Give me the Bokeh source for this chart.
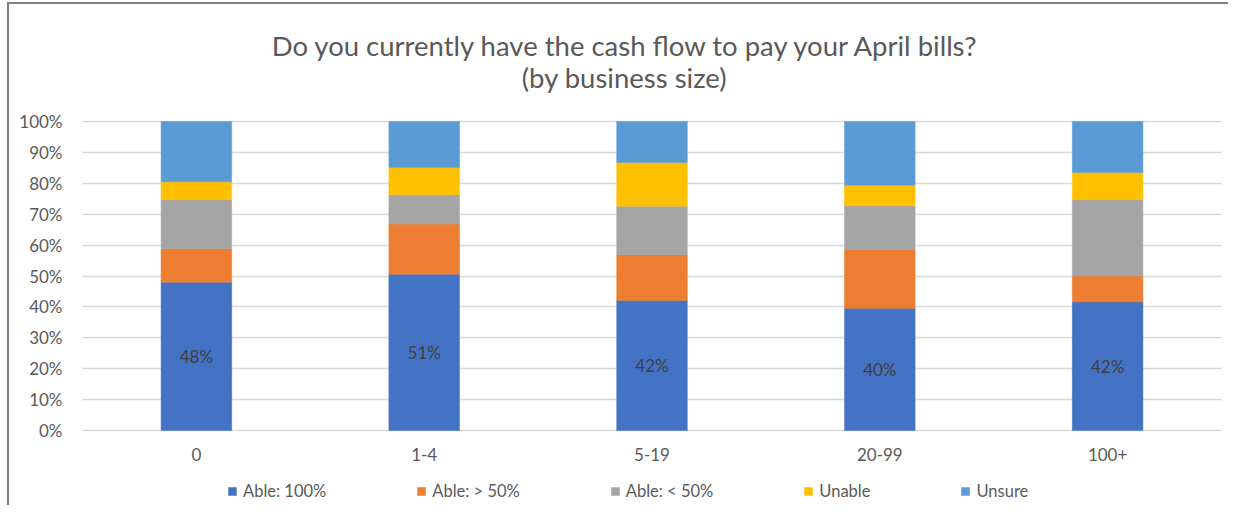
from bokeh.plotting import figure
from bokeh.models import (Label, Legend, LegendItem, FixedTicker, PrintfTickFormatter,
                          Range1d, ColumnDataSource)
from bokeh.core.properties import value
from bokeh.embed import file_html
from bokeh.resources import INLINE

categories = ["0", "1-4", "5-19", "20-99", "100+"]
series_names = ["Able: 100%", "Able: > 50%", "Able: < 50%", "Unable", "Unsure"]
able_100 = [48.0, 50.6, 42.1, 39.6, 41.6]
able_gt50 = [10.8, 16.2, 14.8, 18.9, 8.4]
able_lt50 = [15.9, 9.5, 15.7, 14.2, 24.7]
unable = [5.8, 8.8, 14.1, 6.7, 8.8]
unsure = [19.5, 14.9, 13.3, 20.6, 16.5]
y_ticks = list(range(0, 101, 10))
colors = ["#4472C4", "#ED7D31", "#A5A5A5", "#FFC000", "#5B9BD5"]
title_lines = ["Do you currently have the cash flow to pay your April bills?",
               "(by business size)"]

FONT = "Lato"
TXT = "#595959"

W, H = 1228, 505
PX = 3.09  # pixels per percentage point on the value axis
Y0 = 430   # pixel row of 0%

keys = ["a100", "agt", "alt", "un", "uns"]
src = ColumnDataSource(dict(cat=categories, a100=able_100, agt=able_gt50, alt=able_lt50,
                            un=unable, uns=unsure,
                            half=[v / 2 for v in able_100],
                            lbl=[f"{round(v)}%" for v in able_100]))

p = figure(x_range=categories,
           y_range=Range1d(-(H - Y0) / PX, 100 + (Y0 - 309) / PX),
           width=W, height=H,
           output_backend="svg", toolbar_location=None, title=None,
           min_border_left=82, min_border_right=7, min_border_top=0, min_border_bottom=0,
           styles={"background": "linear-gradient(#808080,#808080) 7px 2px / 2px 100% no-repeat, "
                                 "linear-gradient(#808080,#808080) 7px 2px / 100% 2px no-repeat, "
                                 "white"})
p.outline_line_color = None
p.background_fill_color = None
p.border_fill_color = None

rs = p.vbar_stack(keys, x="cat", width=0.31, source=src, color=colors, line_color=colors,
                  line_width=0.5)

p.text(x="cat", y="half", text="lbl", source=src, text_align="center",
       text_baseline="middle", text_font=value(FONT), text_font_size="17px",
       text_color="#404040")

p.xgrid.grid_line_color = None
p.ygrid.grid_line_color = "#d9d9d9"
p.ygrid.grid_line_width = 1.3
p.yaxis.ticker = FixedTicker(ticks=y_ticks)
p.ygrid.ticker = FixedTicker(ticks=y_ticks)
p.yaxis.formatter = PrintfTickFormatter(format="%d%%")
for ax in (p.xaxis[0], p.yaxis[0]):
    ax.axis_line_color = None
    ax.major_tick_line_color = None
    ax.minor_tick_line_color = None
    ax.major_label_text_font = FONT
    ax.major_label_text_font_size = "17px"
    ax.major_label_text_color = TXT
p.yaxis.major_label_standoff = 14
p.xaxis.fixed_location = 0
p.xaxis.major_label_standoff = 11

p.add_layout(Label(x=544, y=(Y0 - 45) / PX, x_units="screen", y_units="data",
                   text=title_lines[0],
                   text_align="center", text_baseline="middle", text_font=FONT,
                   text_font_size="27.5px", text_color=TXT))
p.add_layout(Label(x=542, y=(Y0 - 77) / PX, x_units="screen", y_units="data",
                   text=title_lines[1],
                   text_align="center", text_baseline="middle", text_font=FONT,
                   text_font_size="27.5px", text_color=TXT))

legend = Legend(items=[LegendItem(label=n, renderers=[r]) for n, r in zip(series_names, rs)],
                orientation="horizontal", location=(145, 4), spacing=90, label_standoff=6,
                glyph_width=10, glyph_height=10, padding=0, margin=0,
                label_text_font=FONT, label_text_font_size="16.5px", label_text_color=TXT,
                border_line_color=None, background_fill_alpha=0)
p.add_layout(legend, "center")

open("out.html", "w").write(file_html(p, INLINE))
